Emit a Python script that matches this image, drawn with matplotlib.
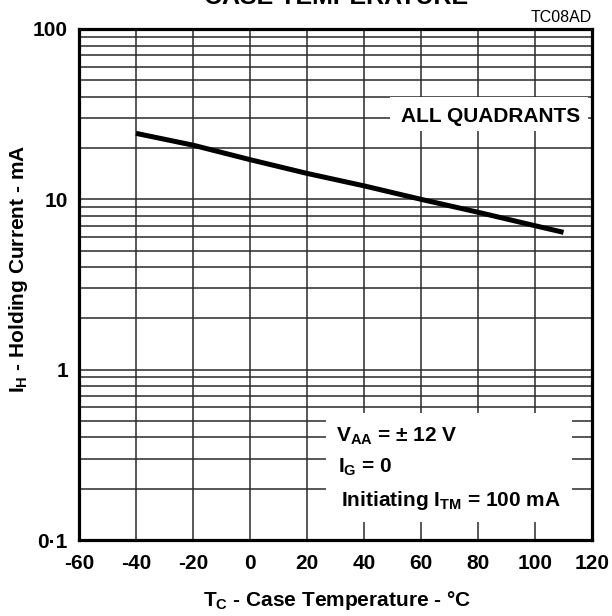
import matplotlib
matplotlib.use("Agg")
import matplotlib.pyplot as plt
from matplotlib.patches import Rectangle
from matplotlib.ticker import NullFormatter, LogLocator

plt.rcParams['font.family'] = ['Liberation Sans', 'DejaVu Sans']
plt.rcParams['font.weight'] = 'bold'
plt.rcParams['mathtext.fontset'] = 'custom'
plt.rcParams['mathtext.rm'] = 'Liberation Sans:bold'
plt.rcParams['mathtext.bf'] = 'Liberation Sans:bold'
plt.rcParams['mathtext.it'] = 'Liberation Sans:bold'

# Data
temps = [-40, -20, 0, 20, 40, 60, 80, 100, 110]
holding_current = [24.4, 20.8, 17.1, 14.2, 12.0, 10.0, 8.4, 7.0, 6.4]
x_ticks = [-60, -40, -20, 0, 20, 40, 60, 80, 100, 120]
y_ticks = [0.1, 1, 10, 100]
y_tick_labels = ['0·1', '1', '10', '100']

W, H = 612, 616
fig = plt.figure(figsize=(W / 100, H / 100), dpi=100)
L, R, T, B = 79, 592, 29, 540
ax = fig.add_axes([L / W, 1 - B / H, (R - L) / W, (B - T) / H])

ax.plot(temps, holding_current, color='black', lw=3.6, solid_capstyle='butt', zorder=4)

ax.set_yscale('log')
ax.set_xlim(-60, 120)
ax.set_ylim(0.1, 100)
ax.set_xticks(x_ticks)
ax.set_xticklabels([str(t) for t in x_ticks])
ax.set_yticks(y_ticks)
ax.set_yticklabels(y_tick_labels)
ax.yaxis.set_minor_locator(LogLocator(base=10, subs=range(2, 10)))
ax.yaxis.set_minor_formatter(NullFormatter())

FS = 15
ax.tick_params(which='both', length=0)
ax.tick_params(axis='x', pad=10, labelsize=FS)
ax.tick_params(axis='y', pad=8, labelsize=FS)

ax.grid(True, which='both', axis='both', color='#2a2a2a', lw=1.1, zorder=0.5)
ax.set_axisbelow(True)
for s in ax.spines.values():
    s.set_linewidth(2.3)
    s.set_zorder(5)

# white boxes
ax.add_patch(Rectangle((0.606, 0.800), 0.386, 0.067, transform=ax.transAxes,
                       facecolor='white', edgecolor='none', zorder=2))
ax.add_patch(Rectangle((0.4815, 0.035), 0.4795, 0.2135, transform=ax.transAxes,
                       facecolor='white', edgecolor='none', zorder=2))

ax.text(0.977, 0.818, 'ALL QUADRANTS', transform=ax.transAxes, ha='right',
        va='baseline', fontsize=FS, fontweight='bold', zorder=3)
ax.text(0.501, 0.192, r'V$_{\mathregular{AA}}$ = ± 12 V', transform=ax.transAxes,
        ha='left', va='baseline', fontsize=FS, fontweight='bold', zorder=3)
ax.text(0.505, 0.131, r'I$_{\mathregular{G}}$ = 0', transform=ax.transAxes,
        ha='left', va='baseline', fontsize=FS, fontweight='bold', zorder=3)
ax.text(0.511, 0.0665, r'Initiating I$_{\mathregular{TM}}$ = 100 mA', transform=ax.transAxes,
        ha='left', va='baseline', fontsize=FS, fontweight='bold', zorder=3)

# labels
fig.text(337 / W, 1 - 606 / H, r'T$_{\mathregular{C}}$ - Case Temperature - °C',
         ha='center', va='baseline', fontsize=FS, fontweight='bold')
fig.text(19 / W, 1 - 269 / H, r'I$_{\mathregular{H}}$ - Holding Current - mA',
         ha='center', va='center', rotation=90, fontsize=FS, fontweight='bold')
fig.text(336 / W, 1 - 4 / H, 'CASE TEMPERATURE', ha='center', va='baseline',
         fontsize=18, fontweight='bold')
fig.text(592 / W, 1 - 22 / H, 'TC08AD', ha='right', va='baseline',
         fontsize=11.5, fontweight='normal')

fig.savefig('out.png', dpi=100)
